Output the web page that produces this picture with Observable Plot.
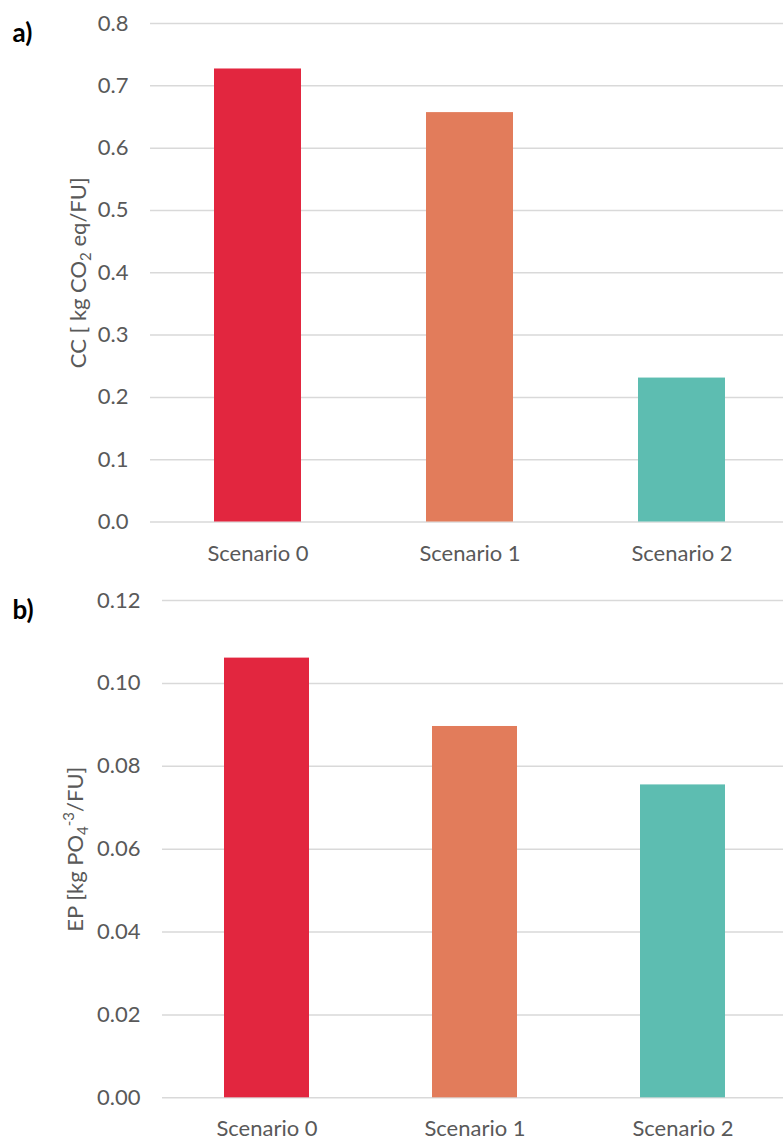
<!DOCTYPE html>
<html>
<head>
<meta charset="utf-8">
<script src="https://cdn.jsdelivr.net/npm/d3@7"></script>
<script src="https://cdn.jsdelivr.net/npm/@observablehq/plot@0.6"></script>
<style>
  html, body { margin: 0; padding: 0; background: #ffffff; }
  #chart { width: 783px; }
  #chart svg { display: block; }
</style>
</head>
<body>
<div id="chart"></div>
<script>
const categories = ["Scenario 0", "Scenario 1", "Scenario 2"];
const ccValues = [0.727, 0.657, 0.231];
const epValues = [0.1061, 0.0896, 0.0755];
const barColors = ["#E2263F", "#E27C5B", "#5DBDB1"];
const ccTicks = [0, 0.1, 0.2, 0.3, 0.4, 0.5, 0.6, 0.7, 0.8];
const epTicks = [0, 0.02, 0.04, 0.06, 0.08, 0.10, 0.12];
const ccLabel = "CC [ kg CO2 eq/FU]";
const epLabel = "EP [kg PO4-3/FU]";
const panelLabels = ["a)", "b)"];

const textColor = "#595959";
const gridColor = "#d9d9d9";
const fontFamily = "Lato, 'Open Sans', sans-serif";

function panel({values, ticks, fmt, yDomain, label, tag, height, marginLeft, marginTop, marginBottom, xRange, titleDx}) {
  const data = categories.map((c, i) => ({cat: c, value: values[i]}));
  return Plot.plot({
    width: 783,
    height,
    marginLeft,
    marginRight: 0,
    marginTop,
    marginBottom,
    style: {fontFamily, fontSize: "22px", color: textColor, background: "#ffffff", overflow: "visible"},
    x: {domain: categories, range: xRange, paddingInner: 0.59, paddingOuter: 0.295, label: null},
    y: {domain: yDomain, label: null},
    color: {domain: categories, range: barColors},
    marks: [
      Plot.gridY(ticks, {stroke: gridColor, strokeOpacity: 1, strokeWidth: 1.5}),
      Plot.barY(data, {x: "cat", y: "value", fill: "cat"}),
      Plot.axisY(ticks, {tickSize: 0, tickPadding: 22, tickFormat: fmt, label: null, fill: textColor, fontSize: 22}),
      Plot.axisX({tickSize: 0, tickPadding: 23, label: null, fill: textColor, fontSize: 22}),
      Plot.text([label], {frameAnchor: "left", textAnchor: "middle", dx: titleDx, rotate: -90, fontSize: 22, fill: textColor}),
      Plot.text([tag], {frameAnchor: "top-left", dx: 12 - marginLeft, textAnchor: "start", fontSize: 26, fontWeight: "bold", fill: "#000000"})
    ]
  });
}

const svgA = panel({
  values: ccValues, ticks: ccTicks, fmt: d3.format(".1f"), yDomain: [0, 0.8],
  label: ccLabel, tag: panelLabels[0], height: 580, marginLeft: 150, marginTop: 23, marginBottom: 58.5,
  xRange: [150, 788], titleDx: -72
});
const svgB = panel({
  values: epValues, ticks: epTicks, fmt: d3.format(".2f"), yDomain: [0, 0.12],
  label: epLabel, tag: panelLabels[1], height: 564, marginLeft: 162, marginTop: 20, marginBottom: 46.7,
  xRange: [161.75, 787.25], titleDx: -87
});

// Rebuild axis titles with real sub/superscripts
function richLabel(svg, plain, parts) {
  d3.select(svg).selectAll("text").filter(function () { return this.textContent === plain; })
    .each(function () {
      const t = d3.select(this);
      t.text(null);
      let shift = 0;
      for (const p of parts) {
        const target = p.shift || 0;
        const ts = t.append("tspan").text(p.t).attr("dy", target - shift);
        if (p.small) ts.attr("font-size", 15);
        shift = target;
      }
    });
}
richLabel(svgA, ccLabel, [{t: "CC [ kg CO"}, {t: "2", shift: 5, small: true}, {t: " eq/FU]", shift: 0}]);
richLabel(svgB, epLabel, [{t: "EP [kg PO"}, {t: "4", shift: 5, small: true}, {t: "-3", shift: -9, small: true}, {t: "/FU]", shift: 0}]);

document.getElementById("chart").append(svgA, svgB);
</script>
</body>
</html>
